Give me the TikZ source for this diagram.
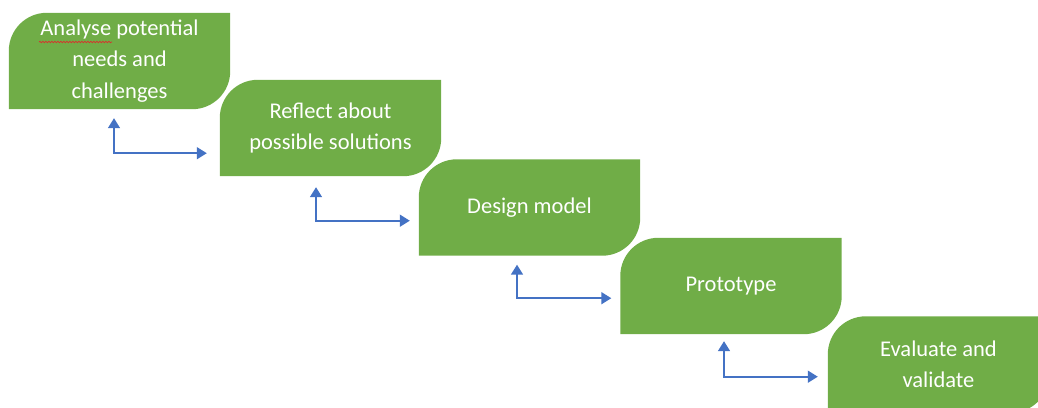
\documentclass[tikz,border=0pt]{standalone}
\usepackage{fontspec}
\setmainfont{Carlito}
\usetikzlibrary{calc,arrows.meta,backgrounds,decorations.pathmorphing}
\definecolor{stepgreen}{HTML}{70AD47}
\definecolor{linkblue}{HTML}{4472C4}
\definecolor{spellred}{HTML}{D9302C}
\newcommand{\leafbox}[1]{%
  \fill[stepgreen] (#1.north east) -- ($(#1.north west)+(38,0)$)
    arc[start angle=90,end angle=180,radius=38] -- (#1.south west)
    -- ($(#1.south east)+(-38,0)$)
    arc[start angle=270,end angle=360,radius=38] -- cycle;}
\begin{document}
\begin{tikzpicture}[x=1pt,y=1pt,
  stepbox/.style={minimum width=221pt,minimum height=96pt,inner sep=0pt,
    text=white,align=center,font=\fontsize{22.5}{31.5}\selectfont},
  link/.style={draw=linkblue,line width=1.6pt,
    {Triangle[length=10pt,width=12pt]}-{Triangle[length=10pt,width=12pt]}}]
\useasboundingbox (0,0) rectangle (1038,-407);
\clip (0,0) rectangle (1038,-407);

% five stages, stepping down to the right
\node[stepbox] (b1) at (119.5,-61)  {Analyse potential\\needs and\\challenges};
\node[stepbox] (b2) at (330.5,-128) {Reflect about\\possible solutions};
\node[stepbox] (b3) at (529.5,-207.5) {Design model};
\node[stepbox] (b4) at (731,-286)   {Prototype};
\node[stepbox] (b5) at (938.5,-364.5) {Evaluate and\\validate};

\begin{scope}[on background layer]
  \foreach \b/\dy in {b1/2,b2/1,b3/1,b4/1,b5/1}{
    \begin{scope}[yshift=\dy pt]\leafbox{\b}\end{scope}}
\end{scope}

% spell-check mark under the first word
\coordinate (sq1) at (39,-42);
\coordinate (sq2) at (112,-42);
\draw[spellred,line width=0.7pt,decorate,
  decoration={snake,segment length=3pt,amplitude=0.7pt}] (sq1) -- (sq2);

% elbow links between consecutive stages
\draw[link] ($(b1.south)+(-5.5,-9)$) |- ($(b2.south west)+(-13,23)$);
\draw[link] ($(b2.south)+(-14.5,-11)$) |- ($(b3.south west)+(-9,35)$);
\draw[link] ($(b3.south)+(-12.5,-9)$) |- ($(b4.south west)+(-9,36)$);
\draw[link] ($(b4.south)+(-7,-7)$) |- ($(b5.south west)+(-10,36)$);
\end{tikzpicture}
\end{document}
